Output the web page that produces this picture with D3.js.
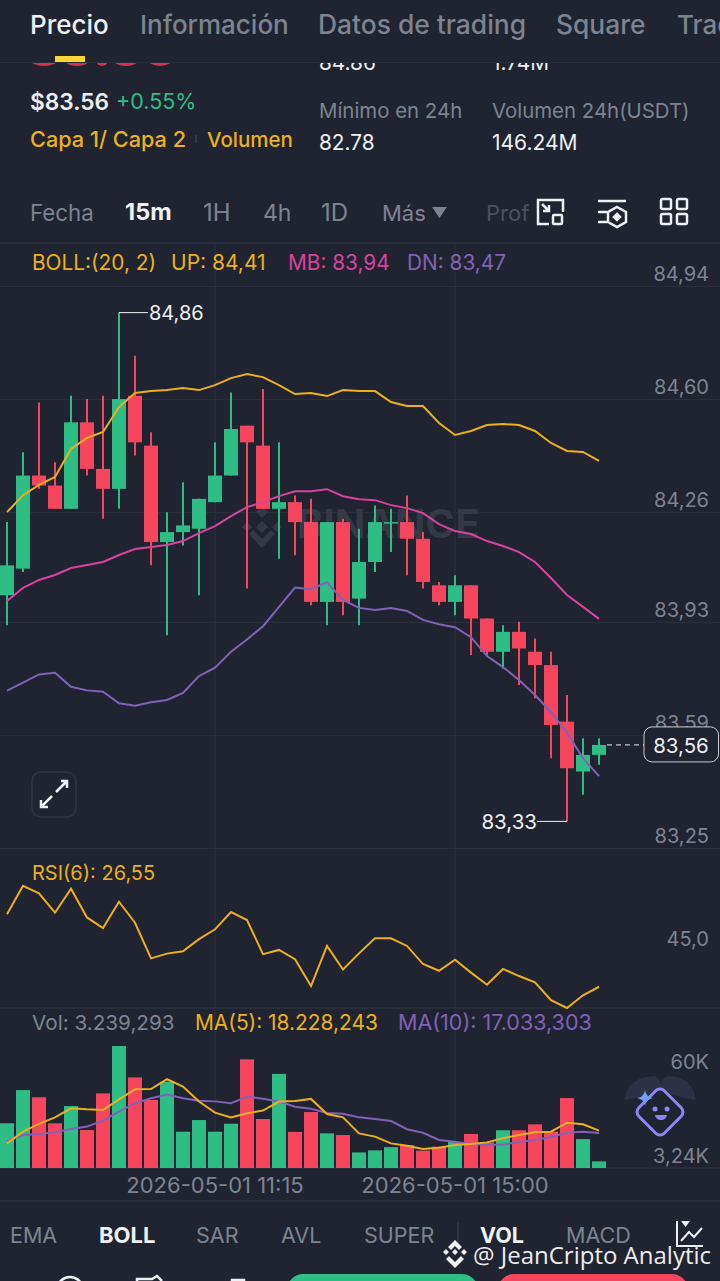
<!DOCTYPE html>
<html>
<head>
<meta charset="utf-8">
<style>
  body { margin: 0; background: #1f2430; }
  svg { display: block; font-family: Inter, "Noto Sans", sans-serif; }
  .axis path { display: none; }
  .axis line { stroke: #2b303c; }
  .axis text { fill: #7d8490; font-size: 20px; font-family: Inter, sans-serif; }
  .dates text { font-size: 22px; }
</style>
</head>
<body>
<div id="chart"></div>
<script src="https://d3js.org/d3.v7.min.js"></script>
<script>
// candles (one per 15m)
const opens = [84.01, 84.09, 84.37, 84.34, 84.27, 84.53, 84.39, 84.33, 84.61, 84.46, 84.17, 84.20, 84.21, 84.29, 84.37, 84.52, 84.46, 84.27, 84.29, 84.23, 83.99, 84.23, 84.00, 84.11, 84.23, 84.23, 84.18, 84.04, 83.99, 84.04, 83.94, 83.84, 83.90, 83.84, 83.80, 83.63, 83.48, 83.53];
const closes = [84.10, 84.37, 84.34, 84.27, 84.53, 84.39, 84.33, 84.60, 84.47, 84.17, 84.20, 84.22, 84.30, 84.37, 84.51, 84.47, 84.27, 84.29, 84.23, 83.99, 84.23, 83.99, 84.11, 84.23, 84.23, 84.18, 84.05, 83.99, 84.04, 83.94, 83.84, 83.90, 83.85, 83.80, 83.62, 83.49, 83.53, 83.56];
const highs = [84.23, 84.44, 84.59, 84.41, 84.61, 84.60, 84.61, 84.86, 84.73, 84.50, 84.26, 84.35, 84.30, 84.47, 84.62, 84.52, 84.63, 84.47, 84.31, 84.30, 84.23, 84.24, 84.21, 84.28, 84.27, 84.31, 84.20, 84.05, 84.07, 84.04, 83.94, 83.92, 83.93, 83.88, 83.84, 83.71, 83.58, 83.58];
const lows = [83.92, 84.08, 84.33, 84.27, 84.27, 84.37, 84.24, 84.27, 84.43, 84.10, 83.89, 84.16, 84.01, 84.29, 84.37, 84.03, 84.27, 84.12, 84.13, 83.98, 83.92, 83.95, 83.92, 84.08, 84.14, 84.07, 84.03, 83.98, 83.95, 83.83, 83.83, 83.79, 83.74, 83.70, 83.52, 83.33, 83.41, 83.50];

// bollinger bands
const bollUp = [84.260, 84.311, 84.342, 84.366, 84.450, 84.483, 84.501, 84.576, 84.618, 84.624, 84.627, 84.633, 84.627, 84.642, 84.663, 84.675, 84.666, 84.642, 84.615, 84.618, 84.609, 84.627, 84.624, 84.624, 84.591, 84.579, 84.579, 84.528, 84.492, 84.504, 84.522, 84.525, 84.522, 84.504, 84.468, 84.444, 84.441, 84.414];
const bollMid = [83.993, 84.032, 84.056, 84.071, 84.092, 84.101, 84.110, 84.131, 84.149, 84.155, 84.161, 84.173, 84.197, 84.218, 84.248, 84.275, 84.290, 84.308, 84.323, 84.323, 84.329, 84.308, 84.299, 84.296, 84.281, 84.272, 84.257, 84.224, 84.203, 84.194, 84.173, 84.158, 84.140, 84.110, 84.062, 84.011, 83.975, 83.939];
const bollDn = [83.723, 83.747, 83.772, 83.777, 83.735, 83.724, 83.720, 83.685, 83.678, 83.688, 83.695, 83.716, 83.767, 83.792, 83.840, 83.877, 83.917, 83.975, 84.033, 84.028, 84.049, 83.996, 83.972, 83.966, 83.972, 83.963, 83.936, 83.923, 83.914, 83.884, 83.827, 83.794, 83.755, 83.710, 83.659, 83.596, 83.520, 83.466];

const rsi = [53.98, 64.8, 61.9, 54.6, 63.7, 52.8, 48.8, 58.75, 50.8, 37.3, 39.1, 40.0, 44.6, 48.3, 54.85, 51.8, 38.9, 40.5, 37.0, 26.8, 42.0, 33.1, 39.2, 44.9, 44.9, 42.0, 35.15, 32.6, 36.8, 31.9, 27.3, 33.3, 30.6, 28.2, 21.5, 18.5, 23.3, 26.55];

// volume, in thousands
const volumes = [21.8, 38.0, 34.5, 21.8, 30.2, 18.5, 36.4, 59.5, 44.2, 33.2, 42.1, 17.7, 23.4, 17.7, 21.6, 53.0, 23.9, 45.9, 17.6, 27.3, 16.9, 16.1, 7.6, 8.6, 10.2, 11.2, 8.5, 10.4, 12.7, 16.6, 12.5, 18.4, 18.4, 21.3, 17.7, 34.1, 14.1, 3.24];
const volMa5 = [12.0, 17.7, 21.5, 24.7, 29.1, 28.6, 28.3, 33.5, 38.4, 38.5, 43.3, 39.7, 32.4, 27.0, 24.6, 26.7, 28.0, 32.4, 32.7, 33.7, 26.3, 24.7, 16.9, 15.3, 12.0, 10.9, 9.3, 9.9, 11.2, 11.7, 12.5, 14.5, 16.1, 17.4, 17.7, 22.1, 21.3, 18.2];
const volMa10 = [13.2, 16.1, 16.6, 17.4, 19.0, 20.2, 23.1, 27.5, 31.6, 34.0, 35.8, 34.0, 32.8, 32.5, 31.6, 34.8, 33.8, 32.4, 29.9, 28.9, 26.8, 26.5, 24.7, 23.9, 22.9, 18.9, 17.2, 13.7, 12.8, 11.7, 11.4, 11.4, 12.7, 13.7, 15.1, 17.2, 17.7, 17.03];

const priceTicks = [84.94, 84.60, 84.26, 83.93, 83.59, 83.25];
const rsiTicks = [45];
const volTicks = [60, 3.24];
const dateTicks = { 13: '2026-05-01 11:15', 28: '2026-05-01 15:00' };
const lastPrice = 83.56;

const green = '#2ebd85', red = '#f6465d', yellow = '#ecb01f', pink = '#d8439f', purple = '#8261b8';
const grey = '#7d8490', bg = '#1f2430', white = '#eef0f3';

const width = 720, height = 1281;
const svg = d3.select('#chart').append('svg').attr('width', width).attr('height', height);

const idx = d3.range(opens.length);
const x = d3.scaleBand().domain(idx).range([-1, 607]).paddingInner(0.125).paddingOuter(0.0625);
const cx = i => x(i) + x.bandwidth() / 2;
const y = d3.scaleLinear().domain([83.25, 84.94]).range([848, 286]);
const yRsi = d3.scaleLinear().domain([18.5, 79.1]).range([1008, 848]);
const yVol = d3.scaleLinear().domain([0, 60]).range([1168, 1045]);

function label(parent, px, py, str, color, size, opts = {}) {
  return parent.append('text').attr('x', px).attr('y', py).text(str)
    .attr('fill', color).attr('font-size', size)
    .attr('font-weight', opts.weight || 400)
    .attr('text-anchor', opts.anchor || 'start')
    .attr('font-family', opts.family || null);
}

// ---- panel grid and axes
const hr = py => svg.append('line').attr('x1', 0).attr('x2', width).attr('y1', py).attr('y2', py).attr('stroke', '#2b303c').attr('stroke-width', 1.5);
[62, 243, 1008, 1168, 1201].forEach(hr);

svg.append('g').attr('class', 'axis dates')
  .call(d3.axisBottom(x).tickValues(Object.keys(dateTicks).map(Number)).tickFormat(i => dateTicks[i]).tickSize(925))
  .attr('transform', 'translate(0,243)')
  .call(g => g.selectAll('text').attr('y', 950).attr('dy', 0));

svg.append('g').attr('class', 'axis')
  .call(d3.axisRight(y).tickValues(priceTicks).tickFormat(d => d3.format('.2f')(d).replace('.', ',')).tickSize(width))
  .call(g => g.selectAll('text').attr('x', 709).attr('text-anchor', 'end').attr('dy', -5.5));

svg.append('g').attr('class', 'axis')
  .call(d3.axisRight(yRsi).tickValues(rsiTicks).tickFormat(d => d3.format('.1f')(d).replace('.', ',')).tickSize(0))
  .call(g => g.selectAll('text').attr('x', 709).attr('text-anchor', 'end').attr('dy', 7));

svg.append('g').attr('class', 'axis')
  .call(d3.axisRight(yVol).tickValues(volTicks).tickFormat(d => d === 60 ? '60K' : '3,24K').tickSize(0))
  .call(g => g.selectAll('text').attr('x', 709).attr('text-anchor', 'end').attr('dy', d => d === 60 ? 23 : 1));

// ---- exchange watermark behind the candles
const mark = svg.append('g').attr('fill', '#343945');
[[262, 512, 6], [247, 527, 5], [277, 527, 5], [262, 527, 6]].forEach(([mx, my, r]) => {
  mark.append('path').attr('d', `M${mx} ${my - r}L${mx + r} ${my}L${mx} ${my + r}L${mx - r} ${my}Z`);
});
mark.append('path').attr('d', 'M249 534l4-4 9 9 9-9 4 4-13 14z');
label(mark, 297, 538, 'BINANCE', '#343945', 40, { weight: 700 });

// ---- candles
const isUp = i => closes[i] >= opens[i];
const color = i => isUp(i) ? green : red;

svg.append('g').selectAll('line').data(idx).join('line')
  .attr('x1', cx).attr('x2', cx)
  .attr('y1', i => y(highs[i])).attr('y2', i => y(lows[i]))
  .attr('stroke', color).attr('stroke-width', 2);

svg.append('g').selectAll('rect').data(idx).join('rect')
  .attr('x', i => x(i)).attr('width', x.bandwidth())
  .attr('y', i => y(Math.max(opens[i], closes[i])))
  .attr('height', i => Math.max(1.5, Math.abs(y(opens[i]) - y(closes[i]))))
  .attr('fill', color);

// ---- bollinger lines
const priceLine = d3.line().x((d, i) => cx(i)).y(d => y(d));
[[bollUp, yellow], [bollMid, pink], [bollDn, purple]].forEach(([series, c]) => {
  svg.append('path').datum(series).attr('d', priceLine)
    .attr('fill', 'none').attr('stroke', c).attr('stroke-width', 2);
});

// ---- high / low call-outs
const hiI = d3.maxIndex(highs), loI = d3.minIndex(lows);
const hiY = y(highs[hiI]), loY = y(lows[loI]);
svg.append('path').attr('fill', 'none').attr('stroke', white).attr('stroke-width', 1)
  .attr('d', `M${cx(hiI)} ${hiY}H${cx(hiI) + 29}M${cx(loI)} ${loY}H${cx(loI) - 30}`);
label(svg, cx(hiI) + 30, hiY + 7, d3.format('.2f')(highs[hiI]).replace('.', ','), white, 20);
label(svg, cx(loI) - 30, loY + 8, d3.format('.2f')(lows[loI]).replace('.', ','), white, 20.500, { anchor: 'end' });

// ---- last price tag
svg.append('line').attr('x1', cx(37) + 8).attr('x2', 644).attr('y1', y(lastPrice)).attr('y2', y(lastPrice))
  .attr('stroke', white).attr('stroke-dasharray', '5 4');
svg.append('rect').attr('x', 644).attr('y', y(lastPrice) - 18).attr('width', 74.5).attr('height', 35).attr('rx', 8)
  .attr('fill', bg).attr('stroke', '#c9cdd3');
label(svg, 681, y(lastPrice) + 8, d3.format('.2f')(lastPrice).replace('.', ','), white, 20.500, { anchor: 'middle' });

// ---- indicator legends
label(svg, 32, 270, 'BOLL:(20, 2)', yellow, 20.800);
label(svg, 171, 270, 'UP: 84,41', yellow, 21);
label(svg, 288, 270, 'MB: 83,94', pink, 20.800);
label(svg, 407, 270, 'DN: 83,47', purple, 20.800);
label(svg, 32, 880, 'RSI(6): 26,55', yellow, 20);
label(svg, 32, 1030, 'Vol: 3.239,293', grey, 20.700);
label(svg, 195, 1030, 'MA(5): 18.228,243', yellow, 20.900);
label(svg, 398, 1030, 'MA(10): 17.033,303', purple, 21.500);

// ---- rsi
svg.append('path').datum(rsi)
  .attr('d', d3.line().x((d, i) => cx(i)).y(d => yRsi(d)))
  .attr('fill', 'none').attr('stroke', yellow).attr('stroke-width', 2);

// ---- volume
svg.append('g').selectAll('rect').data(idx).join('rect')
  .attr('x', i => x(i)).attr('width', x.bandwidth())
  .attr('y', i => yVol(volumes[i])).attr('height', i => yVol(0) - yVol(volumes[i]))
  .attr('fill', color);

const volLine = d3.line().x((d, i) => cx(i)).y(d => yVol(d));
[[volMa10, purple], [volMa5, yellow]].forEach(([series, c]) => {
  svg.append('path').datum(series).attr('d', volLine)
    .attr('fill', 'none').attr('stroke', c).attr('stroke-width', 2);
});

// ---- expand button
const expand = svg.append('g');
expand.append('rect').attr('x', 32).attr('y', 772).attr('width', 44).attr('height', 45).attr('rx', 9)
  .attr('fill', bg).attr('stroke', '#30353f').attr('stroke-width', 1.5);
expand.append('path').attr('fill', 'none').attr('stroke', white).attr('stroke-width', 2.500)
  .attr('d', 'M56 792L67 781M61 781H67V788M52 796L41 807M41 800V807H48');

// ---- header
svg.append('rect').attr('width', width).attr('height', 62).attr('fill', bg);
label(svg, 30, 34, 'Precio', white, 26, { weight: 500 });
label(svg, 140, 34, 'Información', grey, 26, { weight: 500 });
label(svg, 318, 34, 'Datos de trading', grey, 26.400, { weight: 500 });
label(svg, 556, 34, 'Square', grey, 26.400, { weight: 500 });
label(svg, 677, 34, 'Trading', grey, 26, { weight: 500 });

// content scrolled under the header, only its lower edge shows
svg.append('clipPath').attr('id', 'under').append('rect').attr('y', 63).attr('width', width).attr('height', 20);
const under = svg.append('g').attr('clip-path', 'url(#under)');
[[44, 26], [77, 21], [102, 6], [126, 21], [160, 19]].forEach(([dx, r]) => {
  under.append('circle').attr('cx', dx).attr('cy', 66 - r).attr('r', r).attr('fill', '#d6324e');
});
label(under, 319, 70, '84.86', white, 20.800);
label(under, 492, 70, '1.74M', white, 20.800);
svg.append('rect').attr('x', 55).attr('y', 56).attr('width', 30).attr('height', 6).attr('fill', '#fcd535');

label(svg, 30, 110, '$83.56', white, 22.700, { weight: 600 });
label(svg, 116, 109, '+0.55%', green, 21.500);
label(svg, 30, 147, 'Capa 1/ Capa 2', yellow, 21.700, { weight: 500 });
svg.append('line').attr('x1', 196).attr('x2', 196).attr('y1', 135).attr('y2', 143).attr('stroke', '#4a4f5a');
label(svg, 207, 147, 'Volumen', yellow, 20.500, { weight: 500 });
label(svg, 319, 118, 'Mínimo en 24h', grey, 20.400);
label(svg, 492, 118, 'Volumen 24h(USDT)', grey, 20.400);
label(svg, 319, 150, '82.78', white, 20.800);
label(svg, 492, 150, '146.24M', white, 21);

// ---- interval toolbar
label(svg, 30, 221, 'Fecha', grey, 22.300);
label(svg, 125, 220, '15m', white, 23.500, { weight: 700 });
label(svg, 203, 221, '1H', grey, 24);
label(svg, 263, 221, '4h', grey, 23);
label(svg, 321, 221, '1D', grey, 24);
label(svg, 382, 221, 'Más', grey, 22);
svg.append('path').attr('d', 'M432 207H447L439.500 218Z').attr('fill', grey);
label(svg, 486, 221, 'Prof', '#4b515d', 22);

const tools = svg.append('g').attr('fill', 'none').attr('stroke', white).attr('stroke-width', 2.500);
tools.append('path').attr('d', 'M551 200H563V212M549 224H538V200H551M542 204L549 211M549 205V211H543');
tools.append('rect').attr('x', 553).attr('y', 215).attr('width', 9).attr('height', 9).attr('rx', 1);
tools.append('path').attr('d', 'M598 201H626M598 212H607M598 222H607M617 207L626 212V222L617 227L608 222V212Z');
tools.append('path').attr('d', 'M617 214L620 217L617 220L614 217Z').attr('fill', white);
[[661, 199], [677, 199], [661, 214], [677, 214]].forEach(([tx, ty]) => {
  tools.append('rect').attr('x', tx).attr('y', ty).attr('width', 10).attr('height', 10).attr('rx', 1.500);
});

// ---- floating assistant icon
const bot = svg.append('g');
bot.append('path').attr('d', 'M624 1100Q628 1076 656 1076Q660 1080 660 1084Q664 1076 668 1076Q692 1076 696 1100Q680 1098 660 1090Q640 1098 624 1100Z').attr('fill', '#2d3145');
bot.append('rect').attr('x', -18).attr('y', -18).attr('width', 36).attr('height', 36).attr('rx', 6)
  .attr('transform', 'translate(660,1112) rotate(45)')
  .attr('fill', bg).attr('stroke', '#8f86f5').attr('stroke-width', 3);
bot.append('path').attr('d', 'M645 1090Q646 1097 653 1098Q646 1099 645 1106Q644 1099 637 1098Q644 1097 645 1090Z').attr('fill', '#6ea0ff');
bot.append('circle').attr('cx', 655).attr('cy', 1109).attr('r', 2.500).attr('fill', '#8f86f5');
bot.append('circle').attr('cx', 667).attr('cy', 1109).attr('r', 2.500).attr('fill', '#8f86f5');
bot.append('path').attr('d', 'M655 1115H667Q666 1120 661 1120Q656 1120 655 1115Z').attr('fill', '#8f86f5');

// ---- indicator tabs
label(svg, 10, 1243, 'EMA', grey, 21.500);
label(svg, 99, 1243, 'BOLL', white, 22, { weight: 700 });
label(svg, 196, 1243, 'SAR', grey, 21.500);
label(svg, 281, 1243, 'AVL', grey, 21.500);
label(svg, 364, 1243, 'SUPER', grey, 21.500);
svg.append('line').attr('x1', 458).attr('x2', 458).attr('y1', 1222).attr('y2', 1250).attr('stroke', '#3b404c');
label(svg, 480, 1243, 'VOL', white, 21.500, { weight: 700 });
label(svg, 566, 1243, 'MACD', grey, 21.500);
svg.append('path').attr('fill', 'none').attr('stroke', white).attr('stroke-width', 2)
  .attr('d', 'M677 1221V1246H703M681 1241L689 1232L694 1237L702 1228');
svg.append('path').attr('d', 'M681 1221H690L685.500 1227Z').attr('fill', white);

// ---- author stamp
const stamp = svg.append('g').attr('fill', '#f2f2f2');
stamp.append('path').attr('fill-rule', 'evenodd')
  .attr('d', 'M455 1240L462 1247L459 1250L455 1246L451 1250L448 1247ZM446 1249L449 1252L446 1255L443 1252ZM464 1249L467 1252L464 1255L461 1252ZM455 1249L458 1252L455 1255L452 1252ZM449 1256L455 1262L461 1256L464 1259L455 1268L446 1259Z');
label(stamp, 473, 1264, '@ JeanCripto Analytic', '#ececec', 24, { family: '"Open Sans", sans-serif' });

// ---- bottom action bar, cut by the window edge
svg.append('rect').attr('x', 287).attr('y', 1274).attr('width', 191).attr('height', 40).attr('rx', 16).attr('fill', green);
svg.append('rect').attr('x', 498).attr('y', 1274).attr('width', 190).attr('height', 40).attr('rx', 16).attr('fill', red);
svg.append('circle').attr('cx', 70).attr('cy', 1290).attr('r', 13).attr('fill', 'none').attr('stroke', white).attr('stroke-width', 2.500);
svg.append('path').attr('d', 'M137 1281V1279H152L157 1276L162 1281').attr('fill', 'none').attr('stroke', white).attr('stroke-width', 2.500);
svg.append('path').attr('d', 'M232 1282V1280H244V1282').attr('fill', 'none').attr('stroke', white).attr('stroke-width', 2.500);
</script>
</body>
</html>
